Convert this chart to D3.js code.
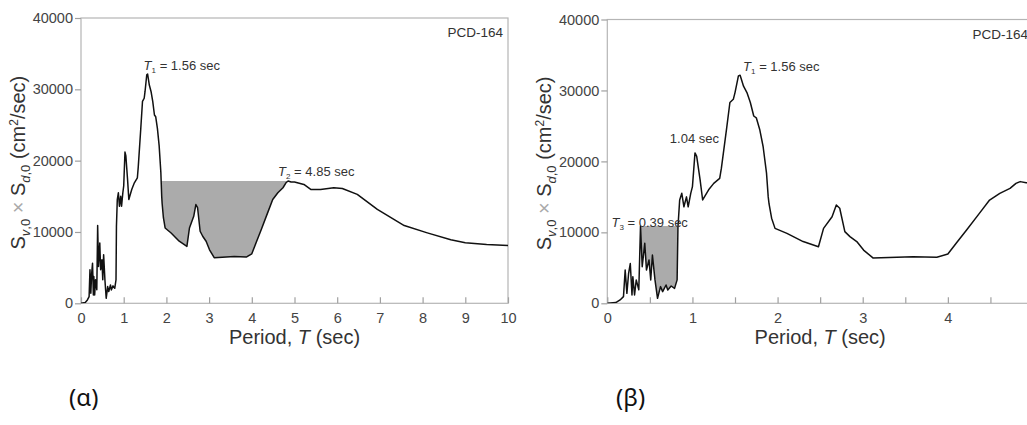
<!DOCTYPE html>
<html>
<head>
<meta charset="utf-8">
<script src="https://cdn.jsdelivr.net/npm/d3@7"></script>
<style>
  body { margin: 0; background: #fff; }
  text { font-family: "Liberation Sans", Arial, Helvetica, sans-serif; }
</style>
</head>
<body>
<svg id="chart" width="1027" height="425"></svg>
<script>
"use strict";

// spectrum Sv,0 x Sd,0 against period
var periods = [0, 0.10, 0.15, 0.19, 0.21, 0.23, 0.25, 0.27, 0.29, 0.30, 0.32, 0.34, 0.37, 0.39,
  0.41, 0.44, 0.46, 0.49, 0.51, 0.53, 0.56, 0.59, 0.625, 0.65, 0.69, 0.71, 0.75, 0.79, 0.82, 0.83,
  0.85, 0.875, 0.90, 0.93, 0.95, 0.98, 1.00, 1.03, 1.05, 1.09, 1.12, 1.19, 1.25, 1.32, 1.34, 1.40,
  1.44, 1.48, 1.50, 1.54, 1.56, 1.60, 1.64, 1.68, 1.72, 1.75, 1.79, 1.83, 1.87, 1.89, 1.90, 1.93,
  1.97, 2.11, 2.30, 2.48, 2.54, 2.64, 2.69, 2.73, 2.79, 2.85, 2.93, 3.01, 3.12, 3.59, 3.87, 4.00,
  4.10, 4.22, 4.37, 4.49, 4.61, 4.73, 4.80, 4.85, 4.92, 5.00, 5.22, 5.38, 5.61, 5.92, 6.12, 6.47,
  6.94, 7.57, 8.11, 8.66, 9.00, 9.50, 10.0];
var values = [0, 100, 470, 940, 4700, 1400, 4200, 5600, 1170, 3750, 1170, 3300, 1900, 10900,
  5160, 8450, 4700, 6100, 3300, 6800, 3300, 700, 2350, 1640, 2580, 1880, 2440, 2100, 3300, 10800,
  14550, 15500, 13600, 15000, 13600, 15500, 16450, 21200, 20700, 17400, 14560, 16000, 16900, 17600, 19050, 24500,
  28300, 28750, 29700, 32050, 32150, 30600, 29700, 28300, 26400, 26150, 24500, 22100, 18350, 15000, 14000, 12000,
  10560, 9860, 8700, 7980, 10560, 12200, 13850, 13400, 10100, 9400, 8700, 7500, 6400, 6570, 6480, 6940,
  8500, 10320, 12680, 14550, 15490, 16200, 16900, 17150, 17000, 17000, 16660, 15960, 15960, 16200, 16100, 15270,
  13160, 10900, 9870, 8900, 8500, 8250, 8100];

var yTicks = [0, 10000, 20000, 30000, 40000];
var alphaTicks = d3.range(0, 11, 1);
var betaTicks = d3.range(0, 5.01, 0.5);
var betaLabels = [0, 1, 2, 3, 4];
var alphaLabels = alphaTicks;
var stationName = "PCD-164";
var panelNames = ["(α)", "(β)"];

var pts = periods.map(function(t, i) { return { t: t, v: values[i] } });

var svg = d3.select("#chart");

// area between the horizontal level v(T) and the curve, from the first dip after
// index `from` until the curve climbs back to the level
function shadePoints(from, level) {
  var out = [], i = from;
  while (i < pts.length && pts[i].v >= level) i++;
  var a = pts[i - 1], b = pts[i];
  out.push({ t: a.t + (b.t - a.t) * (a.v - level) / (a.v - b.v), v: level });
  while (i < pts.length && pts[i].v < level) { out.push(pts[i]); i++ }
  a = pts[i - 1]; b = pts[i];
  out.push({ t: a.t + (b.t - a.t) * (level - a.v) / (b.v - a.v), v: level });
  return out;
}

function label(g, x, y, main, sub, rest) {
  var t = g.append("text").attr("x", x).attr("y", y)
    .style("font-size", "13px").style("fill", "#333");
  if (main) t.append("tspan").style("font-style", "italic").text(main);
  if (sub) {
    t.append("tspan").attr("dy", 3).style("font-size", "8px").text(sub);
    t.append("tspan").attr("dy", -3).text(rest);
  } else t.append("tspan").text(rest);
}

function panel(p) {
  var g = svg.append("g");
  var x = d3.scaleLinear().domain(p.xDomain).range([p.left, p.right]);
  var y = d3.scaleLinear().domain([0, 40000]).range([p.bottom, p.top]);

  var clipId = "clip" + p.id;
  svg.append("clipPath").attr("id", clipId).append("rect")
    .attr("x", p.left).attr("y", p.top)
    .attr("width", p.right - p.left).attr("height", p.bottom - p.top);

  // shaded area
  var level = pts[p.levelIdx].v;
  var shade = shadePoints(p.shadeFrom, level);
  g.append("path")
    .datum(shade)
    .attr("clip-path", "url(#" + clipId + ")")
    .attr("fill", "#ababab")
    .attr("d", d3.area()
      .x(function(d) { return x(d.t) })
      .y0(y(level))
      .y1(function(d) { return y(d.v) }));

  // frame
  g.append("rect")
    .attr("x", p.left).attr("y", p.top)
    .attr("width", p.right - p.left).attr("height", p.bottom - p.top)
    .attr("fill", "none").attr("stroke", "#b5b5b5").attr("stroke-width", 1.2);

  // axes
  var xa = g.append("g").attr("transform", "translate(0," + p.bottom + ")")
    .call(d3.axisBottom(x).tickValues(p.xTicks).tickSizeInner(-6).tickSizeOuter(0).tickPadding(9)
      .tickFormat(function(d) { return p.xLabels.indexOf(d) >= 0 ? d : "" }));
  var ya = g.append("g").attr("transform", "translate(" + p.left + ",0)")
    .call(d3.axisLeft(y).tickValues(yTicks).tickSize(6).tickPadding(2).tickFormat(d3.format("d")));
  [xa, ya].forEach(function(a) {
    a.select(".domain").remove();
    a.selectAll("line").attr("stroke", "#a0a0a0").attr("stroke-width", 1.2);
    a.selectAll("text").style("font-size", "14.5px").style("fill", "#444").style("font-family", null);
  });

  // curve
  g.append("path")
    .datum(pts)
    .attr("clip-path", "url(#" + clipId + ")")
    .attr("fill", "none").attr("stroke", "#111").attr("stroke-width", 1.5)
    .attr("stroke-linejoin", "round")
    .attr("d", d3.line().x(function(d) { return x(d.t) }).y(function(d) { return y(d.v) }));

  // axis titles
  g.append("text")
    .attr("x", (p.left + p.right) / 2).attr("y", p.bottom + 41)
    .attr("text-anchor", "middle").style("font-size", "20px").style("fill", "#333")
    .call(function(t) {
      t.append("tspan").text("Period, ");
      t.append("tspan").style("font-style", "italic").text("T");
      t.append("tspan").text(" (sec)");
    });

  var yt = g.append("text")
    .attr("transform", "translate(" + (p.left - 56) + "," + ((p.top + p.bottom) / 2 + 2) + ") rotate(-90)")
    .attr("text-anchor", "middle").style("font-size", "20px").style("fill", "#333");
  yt.append("tspan").text("S");
  yt.append("tspan").attr("dy", 5).style("font-size", "13px").style("font-style", "italic").text("v");
  yt.append("tspan").style("font-size", "13px").text(",0");
  yt.append("tspan").attr("dy", -5).style("fill", "#aaa").text(" × ");
  yt.append("tspan").text("S");
  yt.append("tspan").attr("dy", 5).style("font-size", "13px").style("font-style", "italic").text("d");
  yt.append("tspan").style("font-size", "13px").text(",0");
  yt.append("tspan").attr("dy", -5).text(" (cm");
  yt.append("tspan").attr("dy", -7).style("font-size", "12px").text("2");
  yt.append("tspan").attr("dy", 7).text("/sec)");

  g.append("text")
    .attr("x", p.right - 5).attr("y", p.top + 19)
    .attr("text-anchor", "end").style("font-size", "13.5px").style("fill", "#333")
    .text(stationName);

  p.notes.forEach(function(n) {
    label(g, x(n.t) + n.dx, y(n.v) + n.dy, n.main, n.sub, n.rest);
  });

  svg.append("text")
    .attr("x", p.capX).attr("y", 406)
    .style("font-family", "'Noto Sans', sans-serif").style("font-size", "24px").style("fill", "#111")
    .text(p.caption);
}

panel({
  id: "a", left: 81, right: 508, top: 18, bottom: 303.3,
  xDomain: [0, 10], xTicks: alphaTicks, xLabels: alphaLabels,
  levelIdx: periods.indexOf(4.85), shadeFrom: periods.indexOf(1.56),
  capX: 69, caption: panelNames[0],
  notes: [
    { t: 1.56, v: 32150, dx: -4, dy: -4, main: "T", sub: "1", rest: " = 1.56 sec" },
    { t: 4.85, v: 17150, dx: -10, dy: -5, main: "T", sub: "2", rest: " = 4.85 sec" }
  ]
});

panel({
  id: "b", left: 607.3, right: 1033, top: 19.5, bottom: 303.3,
  xDomain: [0, 5], xTicks: betaTicks, xLabels: betaLabels,
  levelIdx: periods.indexOf(0.39), shadeFrom: periods.indexOf(0.39),
  capX: 616, caption: panelNames[1],
  notes: [
    { t: 1.56, v: 32150, dx: 3, dy: -4, main: "T", sub: "1", rest: " = 1.56 sec" },
    { t: 1.04, v: 21000, dx: -26, dy: -11, main: "", sub: "", rest: "1.04 sec" },
    { t: 0.39, v: 10900, dx: -29, dy: 1, main: "T", sub: "3", rest: " = 0.39 sec" }
  ]
});
</script>
</body>
</html>
